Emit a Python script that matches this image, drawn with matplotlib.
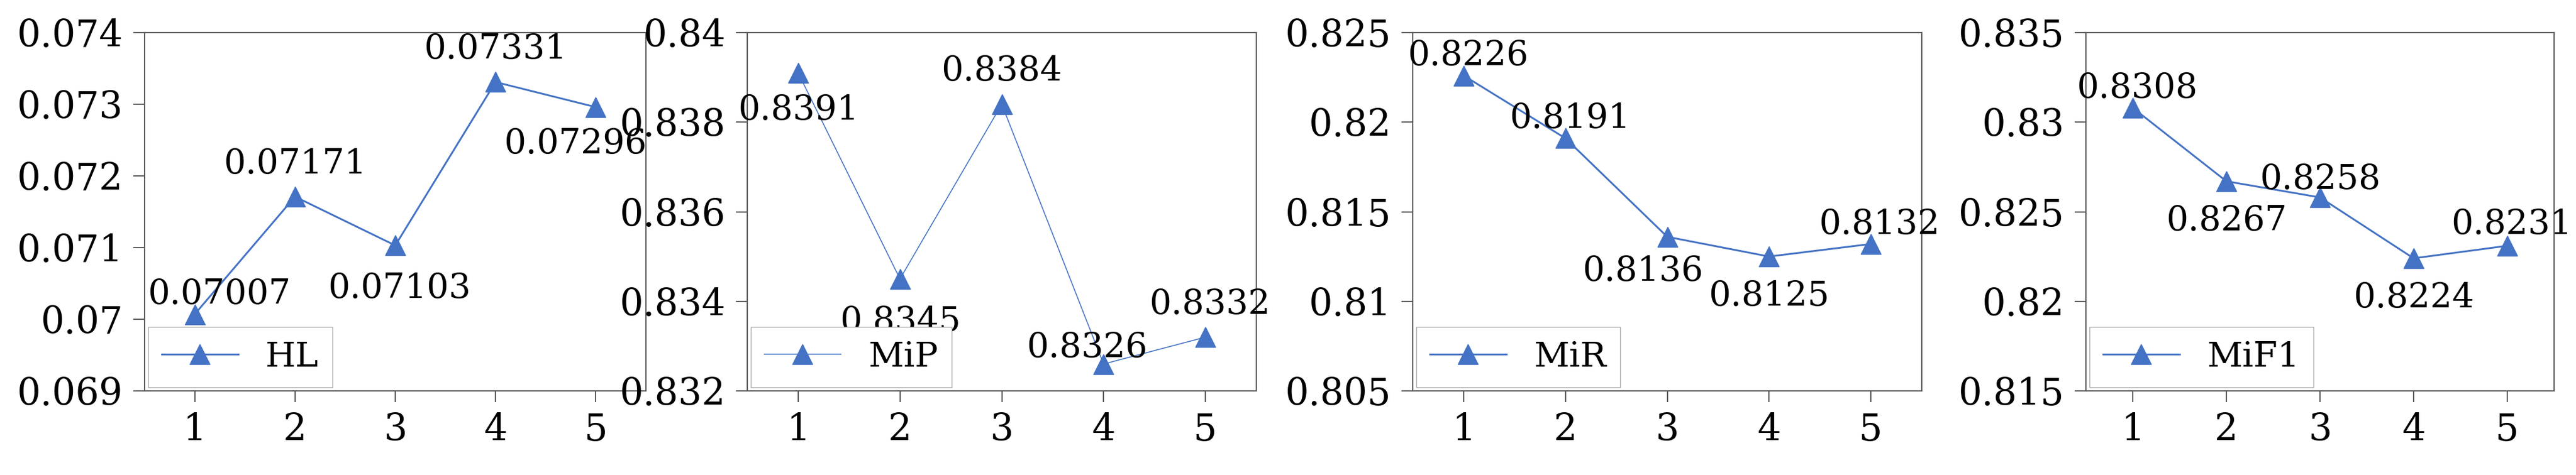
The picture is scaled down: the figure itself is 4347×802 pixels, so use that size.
import numpy as np
import matplotlib.pyplot as plt
from matplotlib.ticker import FuncFormatter

plt.rcParams['font.family'] = ['DejaVu Serif']

x = [1, 2, 3, 4, 5]
hl = [0.07007, 0.07171, 0.07103, 0.07331, 0.07296]
mip = [0.8391, 0.8345, 0.8384, 0.8326, 0.8332]
mir = [0.8226, 0.8191, 0.8136, 0.8125, 0.8132]
mif1 = [0.8308, 0.8267, 0.8258, 0.8224, 0.8231]
labels = ["HL", "MiP", "MiR", "MiF1"]
texts = [["0.07007", "0.07171", "0.07103", "0.07331", "0.07296"],
         ["0.8391", "0.8345", "0.8384", "0.8326", "0.8332"],
         ["0.8226", "0.8191", "0.8136", "0.8125", "0.8132"],
         ["0.8308", "0.8267", "0.8258", "0.8224", "0.8231"]]
ylims = [(0.069, 0.074, 0.001), (0.832, 0.840, 0.002),
         (0.805, 0.825, 0.005), (0.815, 0.835, 0.005)]
# label offsets in points (dx, dy)
offsets = [[(30, 24), (0, 40), (5, -52), (0, 40), (-25, -45)],
           [(0, -45), (0, -52), (0, 40), (-20, 20), (5, 40)],
           [(5, 24), (5, 24), (-30, -42), (0, -48), (10, 24)],
           [(5, 24), (0, -48), (0, 22), (0, -48), (5, 26)]]
widths = [2.2, 1.2, 2.2, 2.2]

W, H = 4347, 802
boxes = [(244, 1090), (1261, 2120), (2384, 3243), (3520, 4310)]
top, bottom = 55, 660
color = "#4472C4"

fig = plt.figure(figsize=(W / 100, H / 100), dpi=100)
for i, ys in enumerate([hl, mip, mir, mif1]):
    l, r = boxes[i]
    ax = fig.add_axes([l / W, 1 - bottom / H, (r - l) / W, (bottom - top) / H])
    ax.plot(x, ys, color=color, lw=widths[i], marker="^", markersize=24, label=labels[i])
    lo, hi, st = ylims[i]
    ax.set_ylim(lo, hi)
    ax.set_yticks(np.arange(lo, hi + st / 2, st))
    ax.yaxis.set_major_formatter(FuncFormatter(lambda v, p: "%g" % round(v, 4)))
    ax.set_xlim(0.5, 5.5)
    ax.set_xticks(x)
    ax.tick_params(labelsize=45, length=14, width=1.5, color="#595959", pad=12)
    for s in ax.spines.values():
        s.set_color("#595959")
        s.set_linewidth(1.5)
    for xi, yi, t, (dx, dy) in zip(x, ys, texts[i], offsets[i]):
        ax.annotate(t, (xi, yi), xytext=(dx, dy), textcoords="offset points",
                    ha="center", va="center", fontsize=42)
    leg = ax.legend(loc="lower left", fontsize=42, fancybox=False, framealpha=1,
                    handlelength=2.2, borderaxespad=0.1)
    leg.get_frame().set_edgecolor("#a6a6a6")

fig.savefig("out.png", dpi=100)
